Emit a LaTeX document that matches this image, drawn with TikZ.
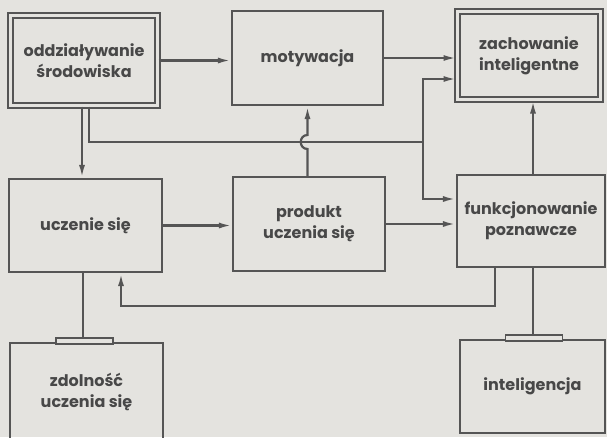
\documentclass[tikz,border=0pt]{standalone}
\usepackage{fontspec}
\setmainfont{Poppins}
\usetikzlibrary{arrows.meta}
\definecolor{bgc}{RGB}{228,227,223}
\definecolor{lnc}{RGB}{85,85,85}
\definecolor{txc}{RGB}{72,72,72}
\tikzset{
  box/.style={draw=lnc, line width=2.2pt, rectangle, align=center, inner sep=0pt,
    text=txc, font=\fontsize{16}{21}\selectfont\bfseries},
  dbox/.style={box, line width=2pt, double=bgc, double distance=3pt},
  tabbox/.style={draw=lnc, line width=1.5pt, fill=bgc, rectangle, inner sep=0pt, minimum width=57pt, minimum height=6pt},
  conn/.style={draw=lnc, line width=2.2pt},
  arr/.style={conn, -{Latex[length=13pt,width=6pt]}}
}
\begin{document}
\begin{tikzpicture}[x=1pt,y=-1pt]
\fill[bgc] (0,0) rectangle (607,437);
\useasboundingbox (0,0) rectangle (607,437);
% boxes
\node[dbox, minimum width=147pt, minimum height=90pt] (env) at (84,60.5) {oddziaływanie\\środowiska};
\node[box, minimum width=151pt, minimum height=94pt] (mot) at (307.5,58) {motywacja};
\node[dbox, minimum width=143pt, minimum height=88pt] (zach) at (529,55.5) {zachowanie\\inteligentne};
\node[box, minimum width=153pt, minimum height=93pt] (ucz) at (85.5,225.5) {uczenie się};
\node[box, minimum width=152pt, minimum height=94pt] (prod) at (309,224) {produkt\\uczenia się};
\node[box, minimum width=148pt, minimum height=92pt] (funk) at (531,221) {funkcjonowanie\\poznawcze};
\node[box, minimum width=153pt, minimum height=98pt] (zdol) at (86.5,392) {zdolność\\uczenia się};
\node[box, minimum width=145pt, minimum height=93pt] (intel) at (532.5,386.5) {inteligencja};
\node[tabbox] (tabz) at (84.5,341) {};
\node[tabbox] (tabi) at (534,338) {};
% connectors
\coordinate (j) at (423,142);
\draw[arr] (env.east) -- (mot.west |- env.east);
\draw[arr] (mot.east) -- (zach.west |- mot.east);
\draw[arr] ([xshift=-2pt]env.south) -- ([xshift=-2pt]env.south |- ucz.north);
\draw[conn] ([xshift=5pt]env.south) |- (j);
\draw[arr] (j) |- ([yshift=-23.5pt]zach.west);
\draw[arr] (j) |- ([yshift=22pt]funk.west);
\draw[arr] (ucz.east) -- (prod.west |- ucz.east);
\draw[arr] (mot.south |- prod.north) -- (307.5,149) .. controls (298.5,149) and (298.5,135) .. (307.5,135) -- (mot.south);
\draw[arr] (prod.east) -- (funk.west |- prod.east);
\draw[arr] ([xshift=2pt]funk.north) -- ([xshift=2pt]funk.north |- zach.south);
\draw[arr] ([xshift=-36pt]funk.south) -- ++(0,38) -| ([xshift=35.5pt]ucz.south);
\draw[conn] ([xshift=-2.5pt]ucz.south) -- ([xshift=-2.5pt]ucz.south |- tabz.north);
\draw[conn] ([xshift=2pt]funk.south) -- ([xshift=2pt]funk.south |- tabi.north);
\end{tikzpicture}
\end{document}
